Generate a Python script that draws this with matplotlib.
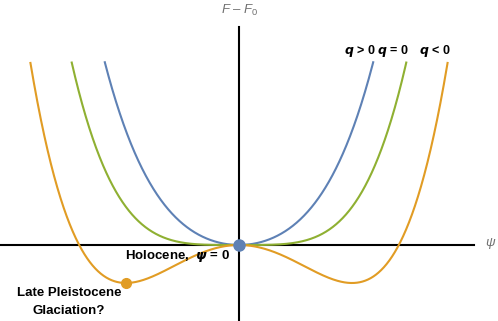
import matplotlib
matplotlib.use("Agg")
import matplotlib.pyplot as plt
import numpy as np

plt.rcParams["font.family"] = ["Liberation Sans", "DejaVu Sans"]
plt.rcParams["mathtext.fontset"] = "custom"
plt.rcParams["mathtext.it"] = "Liberation Sans:italic"
plt.rcParams["mathtext.bf"] = "Liberation Sans:bold"
plt.rcParams["mathtext.rm"] = "Liberation Sans"

# Landau free energy F - F0 = q*psi^2 + psi^4, curves cut at F_MAX
q_values = [2.0, 0.0, -2.0]
curve_colors = ["#5E81B5", "#8FB032", "#E19C24"]
curve_labels = [r"$\boldsymbol{q}$ > 0", r"$\boldsymbol{q}$ = 0", r"$\boldsymbol{q}$ < 0"]
F_MAX = 4.82

# marked states
holocene = (0.0, 0.0)
glaciation = (-1.0, -1.0)

fig = plt.figure(figsize=(4.98, 3.21), dpi=100)
ax = fig.add_axes([0, 0, 1, 1])
ax.set_xlim(-2.115, 2.292)
ax.set_ylim(-2.0, 6.447)
ax.axis("off")

# axes through the origin
ax.plot([-2.115, 2.08], [0, 0], color="black", lw=1.5, zorder=2)
ax.plot([0, 0], [-2.0, 5.74], color="black", lw=1.5, zorder=2)

psi = np.linspace(-2.2, 2.2, 2000)
for q, c in zip(q_values, curve_colors):
    F = q * psi**2 + psi**4
    F = np.where(F <= F_MAX, F, np.nan)
    ax.plot(psi, F, color=c, lw=1.5, zorder=3)

ax.plot(*holocene, "o", color=curve_colors[0], ms=8, zorder=4)
ax.plot(*glaciation, "o", color=curve_colors[2], ms=7, zorder=4)

# labels
ax.text(0.01, 6.16, r"$F$ – $F_0$", color="#707070", fontsize=9.5, ha="center", va="center")
ax.text(2.23, 0.03, r"$\psi$", color="#707070", fontsize=9.5, ha="center", va="center")
label_x = [1.07, 1.365, 1.73]
for x, lab in zip(label_x, curve_labels):
    ax.text(x, 5.1, lab, fontsize=9, fontweight="bold", ha="center", va="center")
ax.text(-0.08, -0.3, r"Holocene,  $\boldsymbol{\psi}$ = 0", fontsize=9.5,
        fontweight="bold", ha="right", va="center")
ax.text(-1.505, -1.51, "Late Pleistocene\nGlaciation?", fontsize=9.5, fontweight="bold",
        ha="center", va="center", linespacing=1.65)

fig.savefig("out.png", dpi=100)
